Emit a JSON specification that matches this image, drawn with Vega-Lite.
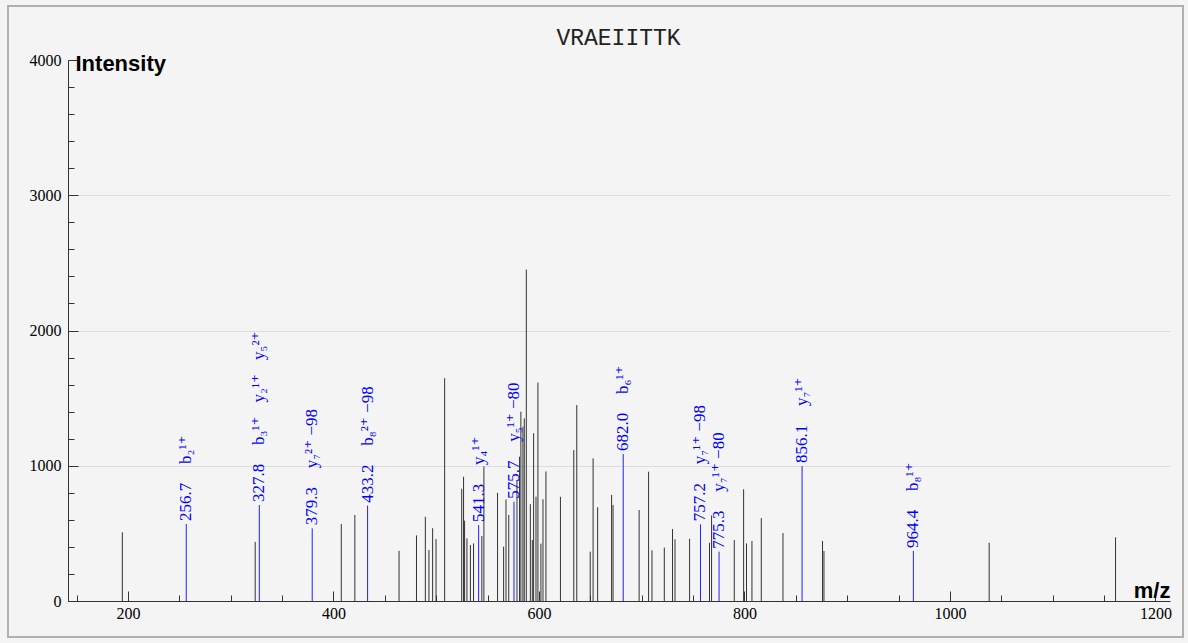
{
  "$schema": "https://vega.github.io/schema/vega-lite/v6.json",
  "width": 1175,
  "height": 631,
  "autosize": {"type": "none"},
  "padding": {"left": 8, "top": 6, "right": 5, "bottom": 6},
  "background": "#f4f4f4",
  "config": {
    "view": {"fill": "#f4f4f4", "stroke": "#b0b0b0", "strokeWidth": 2},
    "axis": {
      "domainColor": "#333333",
      "tickColor": "#333333",
      "labelFont": "Liberation Serif",
      "labelFontSize": 16,
      "labelColor": "#000000",
      "titleFont": "Liberation Sans",
      "titleFontWeight": "bold",
      "titleFontSize": 22,
      "titleColor": "#000000",
      "gridColor": "#dcdcdc",
      "labelFlush": false,
      "labelOverlap": false
    }
  },
  "title": {
    "text": "VRAEIITTK",
    "font": "Liberation Mono",
    "fontSize": 23,
    "fontWeight": "normal",
    "color": "#222222",
    "anchor": "middle",
    "offset": -44,
    "dx": 23
  },
  "datasets": {
    "peaks": [
      {"mz": 194.5, "intensity": 508}, {"mz": 323.8, "intensity": 437}, {"mz": 407.6, "intensity": 569},
      {"mz": 420.8, "intensity": 636}, {"mz": 463.8, "intensity": 371}, {"mz": 480.8, "intensity": 485},
      {"mz": 489.4, "intensity": 623}, {"mz": 492.9, "intensity": 377}, {"mz": 496.5, "intensity": 538},
      {"mz": 499.8, "intensity": 458}, {"mz": 508.2, "intensity": 1648}, {"mz": 524.8, "intensity": 830},
      {"mz": 526.6, "intensity": 919}, {"mz": 527.6, "intensity": 594}, {"mz": 529.9, "intensity": 463},
      {"mz": 533.3, "intensity": 414}, {"mz": 536.3, "intensity": 426}, {"mz": 544.4, "intensity": 481},
      {"mz": 546.4, "intensity": 995}, {"mz": 559.7, "intensity": 800}, {"mz": 565.6, "intensity": 402},
      {"mz": 567.9, "intensity": 750}, {"mz": 570.6, "intensity": 636}, {"mz": 578.6, "intensity": 895},
      {"mz": 581.1, "intensity": 1067}, {"mz": 582.4, "intensity": 1400}, {"mz": 584.4, "intensity": 1289},
      {"mz": 585.7, "intensity": 1351}, {"mz": 587.7, "intensity": 2450}, {"mz": 591.6, "intensity": 716},
      {"mz": 593.5, "intensity": 451}, {"mz": 594.8, "intensity": 1240}, {"mz": 597.1, "intensity": 771},
      {"mz": 599.0, "intensity": 1615}, {"mz": 601.9, "intensity": 424}, {"mz": 603.9, "intensity": 752},
      {"mz": 606.8, "intensity": 958}, {"mz": 620.9, "intensity": 770}, {"mz": 633.9, "intensity": 1116},
      {"mz": 636.8, "intensity": 1449}, {"mz": 649.9, "intensity": 365}, {"mz": 652.7, "intensity": 1055},
      {"mz": 657.1, "intensity": 693}, {"mz": 670.7, "intensity": 784}, {"mz": 672.1, "intensity": 710},
      {"mz": 697.5, "intensity": 673}, {"mz": 706.7, "intensity": 956}, {"mz": 710.0, "intensity": 375},
      {"mz": 722.0, "intensity": 395}, {"mz": 730.0, "intensity": 532}, {"mz": 732.4, "intensity": 456},
      {"mz": 746.6, "intensity": 460}, {"mz": 766.0, "intensity": 431}, {"mz": 768.0, "intensity": 632},
      {"mz": 790.1, "intensity": 451}, {"mz": 799.2, "intensity": 826}, {"mz": 802.0, "intensity": 426},
      {"mz": 807.3, "intensity": 444}, {"mz": 816.4, "intensity": 613}, {"mz": 837.5, "intensity": 502},
      {"mz": 876.0, "intensity": 444}, {"mz": 877.4, "intensity": 370}, {"mz": 1038.2, "intensity": 431},
      {"mz": 1161.2, "intensity": 471}
    ],
    "matched": [
      {"mz": 256.7, "intensity": 569, "ion1": "b₂¹⁺"},
      {"mz": 327.8, "intensity": 710, "ion1": "b₃¹⁺", "ion2": "y₂¹⁺", "ion3": "y₅²⁺"},
      {"mz": 379.3, "intensity": 537, "ion1": "y₇²⁺ −98"},
      {"mz": 433.2, "intensity": 705, "ion1": "b₈²⁺ −98"},
      {"mz": 541.3, "intensity": 562, "ion1": "y₄¹⁺"},
      {"mz": 575.7, "intensity": 734, "ion1": "y₅¹⁺ −80"},
      {"mz": 682.0, "intensity": 1087, "ion1": "b₆¹⁺"},
      {"mz": 757.2, "intensity": 567, "ion1": "y₇¹⁺ −98"},
      {"mz": 775.3, "intensity": 365, "ion1": "y₇¹⁺ −80"},
      {"mz": 856.1, "intensity": 998, "ion1": "y₇¹⁺"},
      {"mz": 964.4, "intensity": 370, "ion1": "b₈¹⁺"}
    ]
  },
  "layer": [
    {
      "data": {"name": "peaks"},
      "mark": {"type": "rule", "color": "#333333", "strokeWidth": 1},
      "encoding": {
        "x": {
          "field": "mz", "type": "quantitative",
          "scale": {"domain": [141.6, 1214.2], "range": [60, 1162], "nice": false, "zero": false},
          "axis": {
            "values": [200, 400, 600, 800, 1000, 1200], "orient": "bottom", "offset": -36,
            "tickSize": -10, "labelPadding": 14, "format": "d", "grid": false,
            "title": "m/z", "titleAlign": "right", "titleBaseline": "middle", "titleX": 1162, "titleY": -11, "titleAngle": 0
          }
        },
        "y": {
          "field": "intensity", "type": "quantitative",
          "scale": {"domain": [0, 4000], "range": [595, 54], "nice": false, "zero": false},
          "axis": {
            "values": [0, 1000, 2000, 3000, 4000], "orient": "left", "offset": -60,
            "tickSize": -10, "labelPadding": 17, "format": "d", "grid": true,
            "gridOpacity": {"condition": {"test": "datum.value == 0 || datum.value == 4000", "value": 0}, "value": 1},
            "title": "Intensity", "titleAngle": 0, "titleAlign": "left", "titleBaseline": "middle", "titleX": 7, "titleY": 57
          }
        },
        "y2": {"datum": 0}
      }
    },
    {
      "data": {"name": "matched"},
      "mark": {"type": "rule", "color": "#2020ff", "strokeWidth": 1},
      "encoding": {
        "x": {
          "field": "mz", "type": "quantitative",
          "scale": {"domain": [141.6, 1214.2], "range": [60, 1162], "nice": false, "zero": false},
          "axis": {
            "values": [150, 250, 300, 350, 450, 500, 550, 650, 700, 750, 850, 900, 950, 1050, 1100, 1150],
            "orient": "bottom", "offset": -36, "tickSize": -6, "labels": false, "domain": false, "grid": false, "title": null
          }
        },
        "y": {
          "field": "intensity", "type": "quantitative",
          "scale": {"domain": [0, 4000], "range": [595, 54], "nice": false, "zero": false},
          "axis": {
            "values": [200, 400, 600, 800, 1200, 1400, 1600, 1800, 2200, 2400, 2600, 2800, 3200, 3400, 3600, 3800],
            "orient": "left", "offset": -60, "tickSize": -6, "labels": false, "domain": false, "grid": false, "title": null
          }
        },
        "y2": {"datum": 0}
      }
    },
    {
      "data": {"name": "matched"},
      "mark": {"type": "text", "angle": 270, "align": "left", "baseline": "middle", "dx": 3, "font": "Liberation Serif, DejaVu Serif", "fontSize": 17, "color": "#0000ff"},
      "encoding": {
        "x": {"field": "mz", "type": "quantitative", "scale": {"domain": [141.6, 1214.2], "range": [60, 1162], "nice": false, "zero": false}, "axis": null},
        "y": {"field": "intensity", "type": "quantitative", "scale": {"domain": [0, 4000], "range": [595, 54], "nice": false, "zero": false}, "axis": null},
        "text": {"field": "mz", "type": "quantitative", "format": ".1f"}
      }
    },
    {
      "data": {"name": "matched"},
      "mark": {"type": "text", "angle": 270, "align": "left", "baseline": "middle", "dx": 60, "font": "Liberation Serif, DejaVu Serif", "fontSize": 17, "color": "#0000ff"},
      "encoding": {
        "x": {"field": "mz", "type": "quantitative", "scale": {"domain": [141.6, 1214.2], "range": [60, 1162], "nice": false, "zero": false}, "axis": null},
        "y": {"field": "intensity", "type": "quantitative", "scale": {"domain": [0, 4000], "range": [595, 54], "nice": false, "zero": false}, "axis": null},
        "text": {"field": "ion1", "type": "nominal"}
      }
    },
    {
      "data": {"name": "matched"},
      "transform": [{"filter": "isValid(datum.ion2)"}],
      "mark": {"type": "text", "angle": 270, "align": "left", "baseline": "middle", "dx": 102.5, "font": "Liberation Serif, DejaVu Serif", "fontSize": 17, "color": "#0000ff"},
      "encoding": {
        "x": {"field": "mz", "type": "quantitative", "scale": {"domain": [141.6, 1214.2], "range": [60, 1162], "nice": false, "zero": false}, "axis": null},
        "y": {"field": "intensity", "type": "quantitative", "scale": {"domain": [0, 4000], "range": [595, 54], "nice": false, "zero": false}, "axis": null},
        "text": {"field": "ion2", "type": "nominal"}
      }
    },
    {
      "data": {"name": "matched"},
      "transform": [{"filter": "isValid(datum.ion3)"}],
      "mark": {"type": "text", "angle": 270, "align": "left", "baseline": "middle", "dx": 145, "font": "Liberation Serif, DejaVu Serif", "fontSize": 17, "color": "#0000ff"},
      "encoding": {
        "x": {"field": "mz", "type": "quantitative", "scale": {"domain": [141.6, 1214.2], "range": [60, 1162], "nice": false, "zero": false}, "axis": null},
        "y": {"field": "intensity", "type": "quantitative", "scale": {"domain": [0, 4000], "range": [595, 54], "nice": false, "zero": false}, "axis": null},
        "text": {"field": "ion3", "type": "nominal"}
      }
    }
  ],
  "resolve": {"axis": {"x": "independent", "y": "independent"}}
}
